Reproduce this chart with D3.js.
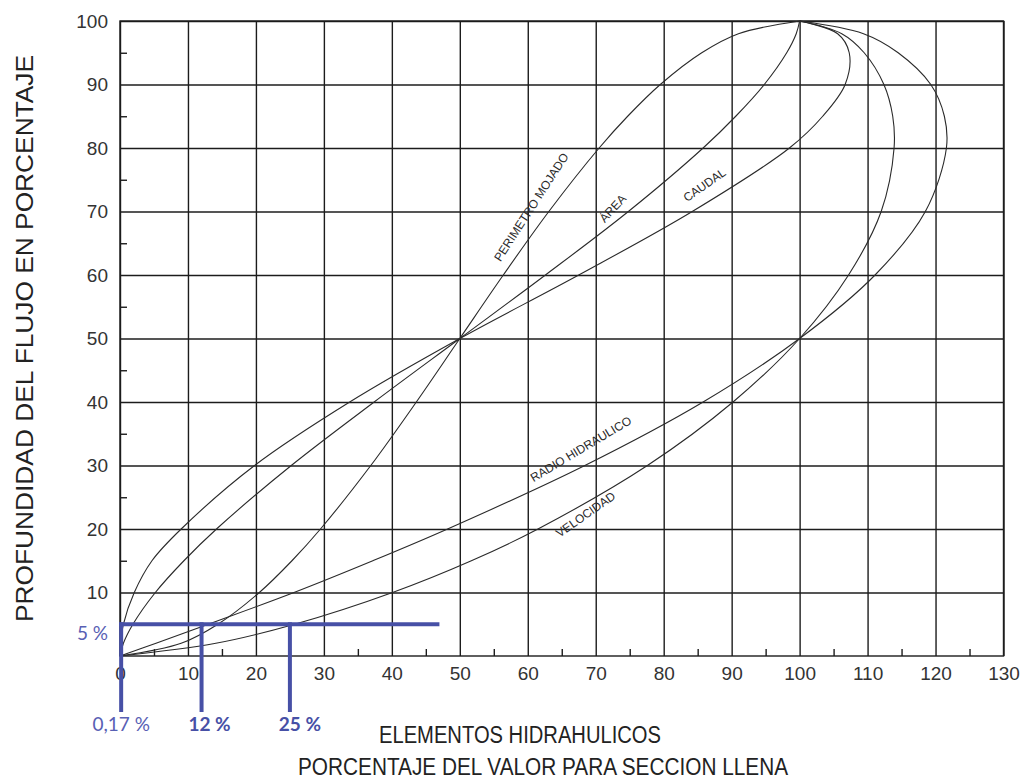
<!DOCTYPE html>
<html>
<head>
<meta charset="utf-8">
<script src="https://cdn.jsdelivr.net/npm/d3@7"></script>
<style>
  body { margin: 0; background: #fff; }
  svg { display: block; }
</style>
</head>
<body>
<svg id="chart" width="1032" height="780"></svg>
<script>
// Flow depth (% of full section) at which each hydraulic element is read
const depth      = [0, 2, 5, 10, 15, 20, 30, 40, 50, 60, 70, 80, 85, 90, 95, 98, 100];
// Hydraulic elements, % of the full-section value
const perimetro  = [0, 9, 14.4, 20.5, 25.3, 29.5, 36.9, 43.6, 50, 56.4, 63.1, 70.5, 74.7, 79.5, 85.6, 91, 100];
const area       = [0, 0.5, 1.9, 5.2, 9.4, 14.2, 25.2, 37.4, 50, 62.6, 74.8, 85.8, 90.6, 94.8, 98.1, 99.5, 100];
const caudal     = [0, 0.1, 0.5, 2.1, 4.7, 9.0, 19.8, 33.8, 50, 67.5, 84.2, 98.5, 103.4, 106.7, 107.3, 105.6, 100];
const radio      = [0, 5.3, 13.0, 25.6, 37.2, 48.2, 68.4, 85.8, 100, 111.1, 118.5, 121.6, 121.3, 119.3, 114.5, 109.4, 100];
const velocidad  = [0, 14.1, 25.7, 40.1, 51.7, 61.5, 77.6, 90.2, 100, 107.2, 112.0, 113.9, 113.7, 112.4, 109.5, 106.2, 100];

const seriesNames = ["PERIMETRO MOJADO", "ÁREA", "CAUDAL", "RADIO HIDRAULICO", "VELOCIDAD"];

// Axis ticks
const xTicks = d3.range(0, 131, 10);
const yTicks = d3.range(10, 101, 10);
const xMinor = d3.range(5, 130, 10);
const yMinor = d3.range(5, 100, 10);

// Worked example: 5 % depth and the readings taken from it
const exampleDepth = 5;
const exampleReach = 47;                  // end of the horizontal reading line
const exampleValues = [0.17, 12, 25];
const exampleLabels = ["0,17 %", "12 %", "25 %"];

const svg = d3.select("#chart");
const margin = { left: 120, right: 28.5, top: 21, bottom: 124 };
const W = 1032, H = 780;

const x = d3.scaleLinear().domain([0, 130]).range([margin.left, W - margin.right]);
const y = d3.scaleLinear().domain([0, 100]).range([H - margin.bottom, margin.top]);

const ink = "#1c1c1c";
const textInk = "#333";
const blue = "#4750a6";
const blueLight = "#5860b4";

// ---- grid + tick labels
const gx = svg.append("g")
  .attr("transform", `translate(0,${y(0)})`)
  .call(d3.axisBottom(x).tickValues(xTicks).tickSize(-(y(0) - y(100))).tickPadding(11));
gx.select(".domain").remove();
gx.selectAll("line").attr("stroke", ink).attr("stroke-width", 1.4);
gx.selectAll("text")
  .attr("font-family", "'Liberation Sans', Arial, sans-serif")
  .attr("font-size", 19).attr("fill", textInk);

const gy = svg.append("g")
  .attr("transform", `translate(${x(0)},0)`)
  .call(d3.axisLeft(y).tickValues(yTicks).tickSize(-(x(130) - x(0))).tickPadding(12));
gy.select(".domain").remove();
gy.selectAll("line").attr("stroke", ink).attr("stroke-width", 1.4);
gy.selectAll("text")
  .attr("font-family", "'Liberation Sans', Arial, sans-serif")
  .attr("font-size", 19).attr("fill", textInk);

// ---- minor ticks
const mx = svg.append("g")
  .attr("transform", `translate(0,${y(0)})`)
  .call(d3.axisBottom(x).tickValues(xMinor).tickSize(-7).tickFormat(""));
mx.select(".domain").remove();
mx.selectAll("line").attr("stroke", ink).attr("stroke-width", 1.4);

const my = svg.append("g")
  .attr("transform", `translate(${x(0)},0)`)
  .call(d3.axisLeft(y).tickValues(yMinor).tickSize(-7).tickFormat(""));
my.select(".domain").remove();
my.selectAll("line").attr("stroke", ink).attr("stroke-width", 1.4);

// ---- frame
svg.append("rect")
  .attr("x", x(0)).attr("y", y(100))
  .attr("width", x(130) - x(0)).attr("height", y(0) - y(100))
  .attr("fill", "none").attr("stroke", ink).attr("stroke-width", 1.4);

// ---- curves (x = element %, y = depth %)
const allSeries = [perimetro, area, caudal, radio, velocidad];
const line = d3.line()
  .x(d => x(d[0]))
  .y(d => y(d[1]))
  .curve(d3.curveCatmullRom.alpha(0.5));

svg.append("g").selectAll("path")
  .data(allSeries.map(vals => vals.map((v, i) => [v, depth[i]])))
  .join("path")
  .attr("d", line)
  .attr("fill", "none")
  .attr("stroke", "#2a2a2a")
  .attr("stroke-width", 1.1);

// ---- curve names, written along each curve
const labelPos = [
  { at: [60.5, 70.7], angle: -57 },
  { at: [72.5, 70.5], angle: -47 },
  { at: [86, 74.2], angle: -35 },
  { at: [67.8, 32.6], angle: -31 },
  { at: [68.5, 22.3], angle: -35 }
];
svg.append("g").selectAll("text")
  .data(seriesNames)
  .join("text")
  .attr("transform", (d, i) => `translate(${x(labelPos[i].at[0])},${y(labelPos[i].at[1])}) rotate(${labelPos[i].angle})`)
  .attr("text-anchor", "middle")
  .attr("dy", "0.35em")
  .attr("font-family", "'Liberation Sans', Arial, sans-serif")
  .attr("font-size", 12)
  .attr("fill", "#2a2a2a")
  .text(d => d);

// ---- worked example in blue
const drop = 56;   // how far the reading lines run below the axis
const ex = svg.append("g");
ex.append("line")
  .attr("x1", x(0) - 1).attr("x2", x(exampleReach))
  .attr("y1", y(exampleDepth)).attr("y2", y(exampleDepth))
  .attr("stroke", blue).attr("stroke-width", 4);
ex.selectAll("line.v")
  .data(exampleValues)
  .join("line").attr("class", "v")
  .attr("x1", d => x(d)).attr("x2", d => x(d))
  .attr("y1", y(exampleDepth) - 2).attr("y2", y(0) + drop)
  .attr("stroke", blue).attr("stroke-width", 4);

const exDx = [0, 8, 10];
ex.selectAll("text.v")
  .data(exampleLabels)
  .join("text").attr("class", "v")
  .attr("x", (d, i) => x(exampleValues[i]) + exDx[i])
  .attr("y", y(0) + drop + 19)
  .attr("text-anchor", "middle")
  .attr("font-family", "Lato, 'Open Sans', sans-serif")
  .attr("font-size", 19)
  .attr("font-weight", (d, i) => i === 0 ? 400 : 700)
  .attr("fill", (d, i) => i === 0 ? blueLight : blue)
  .text(d => d);

ex.append("text")
  .attr("x", x(0) - 12).attr("y", y(exampleDepth) + 9)
  .attr("dy", "0.35em")
  .attr("text-anchor", "end")
  .attr("font-family", "Lato, 'Open Sans', sans-serif")
  .attr("font-size", 19)
  .attr("fill", blueLight)
  .text(exampleDepth + " %");

// ---- axis titles
svg.append("text")
  .attr("x", 520).attr("y", 743)
  .attr("text-anchor", "middle")
  .attr("font-family", "'Liberation Sans', Arial, sans-serif")
  .attr("font-size", 23)
  .attr("textLength", 282).attr("lengthAdjust", "spacingAndGlyphs")
  .attr("fill", "#222")
  .text("ELEMENTOS HIDRAHULICOS");

svg.append("text")
  .attr("x", 543).attr("y", 775)
  .attr("text-anchor", "middle")
  .attr("font-family", "'Liberation Sans', Arial, sans-serif")
  .attr("font-size", 23)
  .attr("textLength", 490).attr("lengthAdjust", "spacingAndGlyphs")
  .attr("fill", "#222")
  .text("PORCENTAJE DEL VALOR PARA SECCION LLENA");

svg.append("text")
  .attr("transform", "translate(33,338.5) rotate(-90)")
  .attr("text-anchor", "middle")
  .attr("font-family", "'Liberation Sans', Arial, sans-serif")
  .attr("font-size", 24)
  .attr("textLength", 567).attr("lengthAdjust", "spacingAndGlyphs")
  .attr("fill", "#222")
  .text("PROFUNDIDAD DEL FLUJO EN PORCENTAJE");
</script>
</body>
</html>
